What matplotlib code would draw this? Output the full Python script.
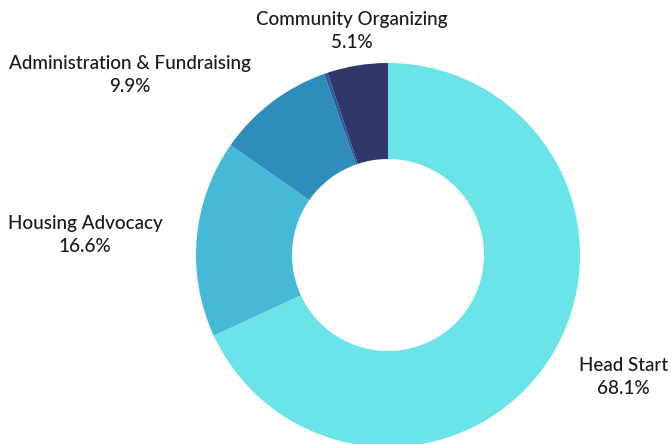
import numpy as np
import matplotlib
matplotlib.use("Agg")
import matplotlib.pyplot as plt

plt.rcParams['font.family'] = ['Lato', 'DejaVu Sans']

categories = ['Head Start', 'Housing Advocacy', 'Administration & Fundraising',
              'Other', 'Community Organizing']
values = [68.1, 16.6, 9.9, 0.3, 5.1]
show_label = [True, True, True, False, True]
colors = ['#6ae4e8', '#45b9d6', '#2e8dbb', '#2b5f97', '#31376b']

W, H = 671, 444
fig = plt.figure(figsize=(W / 100, H / 100), dpi=100)
cx, cy, r = 388, 255, 192
ax = fig.add_axes([(cx - r) / W, (H - cy - r) / H, 2 * r / W, 2 * r / H])

wedges, _ = ax.pie(values, colors=colors, startangle=90, counterclock=False,
                   radius=1.0, wedgeprops=dict(width=0.5, linewidth=0))
ax.set_xlim(-1, 1)
ax.set_ylim(-1, 1)
ax.set_aspect('equal')
ax.axis('off')

for w, name, v, show in zip(wedges, categories, values, show_label):
    if not show:
        continue
    ang = np.deg2rad((w.theta1 + w.theta2) / 2)
    x, y = 1.18 * np.cos(ang), 1.18 * np.sin(ang)
    if np.cos(ang) > 0.3:
        ha = 'left'
    elif np.cos(ang) < -0.3:
        ha = 'right'
    else:
        ha = 'center'
    ax.text(x, y, '%s\n%.1f%%' % (name, v), ha=ha, va='center',
            multialignment='center', fontsize=13.6, color='#1a1a1a',
            weight='medium', linespacing=1.45)

fig.savefig('out.png', dpi=100)
